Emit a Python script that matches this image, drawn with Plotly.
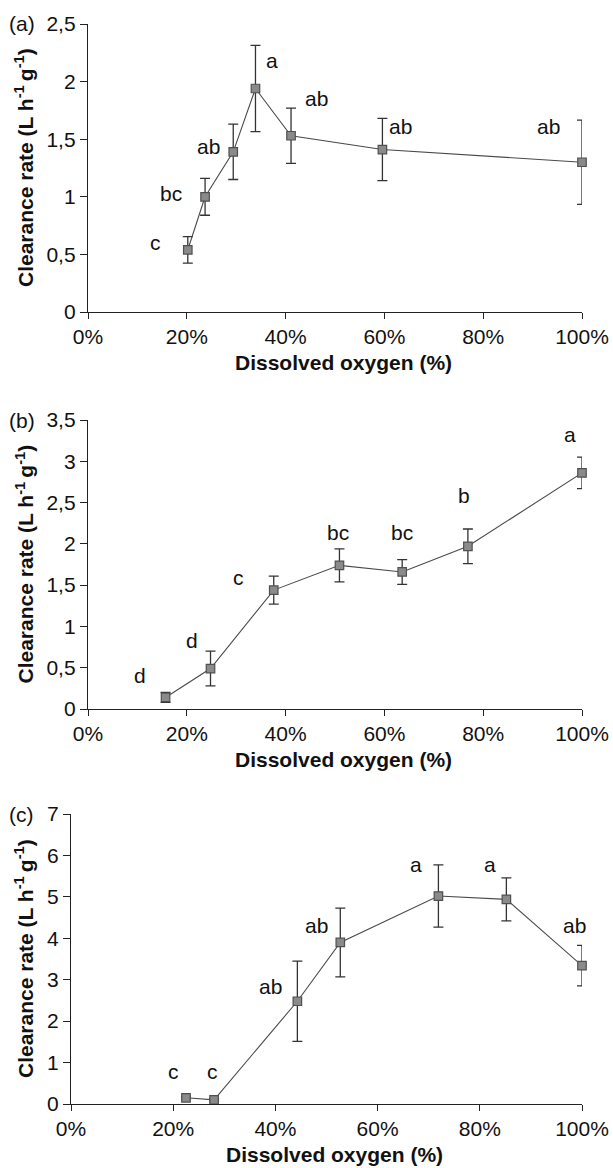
import plotly.graph_objects as go

# ---- data -------------------------------------------------------------
# Panel (a)
do_a = [20.2, 23.7, 29.4, 33.9, 41.1, 59.6, 100]
cr_a = [0.54, 1.00, 1.39, 1.94, 1.53, 1.41, 1.30]
se_a = [0.115, 0.16, 0.24, 0.375, 0.24, 0.27, 0.365]
grp_a = ["c", "bc", "ab", "a", "ab", "ab", "ab"]

# Panel (b)
do_b = [15.7, 24.8, 37.6, 50.9, 63.6, 76.9, 100]
cr_b = [0.14, 0.49, 1.44, 1.74, 1.66, 1.97, 2.86]
se_b = [0.06, 0.21, 0.17, 0.20, 0.15, 0.21, 0.19]
grp_b = ["d", "d", "c", "bc", "bc", "b", "a"]

# Panel (c)
do_c = [22.5, 28.0, 44.3, 52.7, 71.9, 85.2, 100]
cr_c = [0.15, 0.10, 2.48, 3.90, 5.02, 4.94, 3.34]
se_c = [0.03, 0.03, 0.97, 0.83, 0.75, 0.52, 0.49]
grp_c = ["c", "c", "ab", "ab", "a", "a", "ab"]

# letter positions (x %, y value) for the significance groups
lab_a_x = [13.6, 16.8, 24.4, 37.3, 46.2, 63.2, 93.3]
lab_a_y = [0.60, 1.03, 1.44, 2.18, 1.85, 1.61, 1.61]
lab_b_x = [10.6, 21.0, 30.5, 50.6, 63.6, 76.1, 97.6]
lab_b_y = [0.40, 0.83, 1.59, 2.14, 2.14, 2.58, 3.33]
lab_c_x = [20.0, 27.6, 39.1, 48.1, 67.6, 81.9, 98.6]
lab_c_y = [0.78, 0.78, 2.83, 4.32, 5.79, 5.79, 4.32]

x_ticks = [0, 20, 40, 60, 80, 100]
x_ticktext = ["0%", "20%", "40%", "60%", "80%", "100%"]
y_ticks_a = [0, 0.5, 1, 1.5, 2, 2.5]
y_ticktext_a = ["0", "0,5", "1", "1,5", "2", "2,5"]
y_ticks_b = [0, 0.5, 1, 1.5, 2, 2.5, 3, 3.5]
y_ticktext_b = ["0", "0,5", "1", "1,5", "2", "2,5", "3", "3,5"]
y_ticks_c = [0, 1, 2, 3, 4, 5, 6, 7]
y_ticktext_c = ["0", "1", "2", "3", "4", "5", "6", "7"]

x_title = "Dissolved oxygen (%)"
y_title = "Clearance rate (L h<sup>-1 </sup>g<sup>-1</sup>)"
panel_tags = ["(a)", "(b)", "(c)"]

# ---- layout helpers -----------------------------------------------------
W, H = 613, 1168
FONT = "Liberation Sans, Arial, sans-serif"
INK = "#222222"


def px_x(p):
    return p / W


def px_y(p):
    return 1 - p / H


# plot boxes in pixels: (left, right, top, bottom)
boxes = [(88, 582, 24, 312), (88, 582, 420, 709), (71, 582, 814, 1104)]
ymax = [2.5, 3.5, 7]

panels = [
    (do_a, cr_a, se_a, grp_a, lab_a_x, lab_a_y, y_ticks_a, y_ticktext_a),
    (do_b, cr_b, se_b, grp_b, lab_b_x, lab_b_y, y_ticks_b, y_ticktext_b),
    (do_c, cr_c, se_c, grp_c, lab_c_x, lab_c_y, y_ticks_c, y_ticktext_c),
]

fig = go.Figure()
annotations = []

for i, (xs, ys, es, grp, lx, ly, yt, ytt) in enumerate(panels):
    n = "" if i == 0 else str(i + 1)
    xa, ya = "x" + n, "y" + n
    left, right, top, bottom = boxes[i]

    fig.add_trace(go.Scatter(
        x=xs, y=ys, xaxis=xa, yaxis=ya,
        mode="lines+markers",
        line=dict(color="#4a4a4a", width=1.1),
        marker=dict(symbol="square", size=8.5, color="#8a8a8a",
                    line=dict(color="#505050", width=1.2)),
        error_y=dict(type="data", array=es, symmetric=True,
                     color="#333333", thickness=1.3, width=5),
        cliponaxis=False,
        showlegend=False,
    ))

    for t, x, y in zip(grp, lx, ly):
        annotations.append(dict(
            x=x, y=y, xref=xa, yref=ya, text=t, showarrow=False,
            xanchor="center", yanchor="middle",
            font=dict(family=FONT, size=21, color="#111111"),
        ))

    fig.layout["xaxis" + n] = dict(
        domain=[px_x(left), px_x(right)], anchor=ya, range=[0, 100],
        tickvals=x_ticks, ticktext=x_ticktext,
        showline=True, linecolor=INK, linewidth=1.3,
        ticks="outside", ticklen=6, tickwidth=1.3, tickcolor=INK,
        showgrid=False, zeroline=False, fixedrange=True, automargin=False,
        tickfont=dict(family=FONT, size=21, color="#111111"),
    )
    fig.layout["yaxis" + n] = dict(
        domain=[px_y(bottom), px_y(top)], anchor=xa, range=[0, ymax[i]],
        tickvals=yt, ticktext=ytt,
        showline=True, linecolor=INK, linewidth=1.3,
        ticks="outside", ticklen=7, tickwidth=1.3, tickcolor=INK,
        showgrid=False, zeroline=False, fixedrange=True, automargin=False,
        tickfont=dict(family=FONT, size=21, color="#111111"),
    )

    # axis titles
    annotations.append(dict(
        x=px_x((left + right) / 2 + 8), y=px_y(bottom + 50),
        xref="paper", yref="paper", text=x_title, showarrow=False,
        xanchor="center", yanchor="middle",
        font=dict(family=FONT, size=21, color="#111111", weight="bold"),
    ))
    annotations.append(dict(
        x=px_x(24), y=px_y((top + bottom) / 2),
        xref="paper", yref="paper", text=y_title, showarrow=False,
        textangle=-90, xanchor="center", yanchor="middle",
        font=dict(family=FONT, size=21, color="#111111", weight="bold"),
    ))
    # panel tag
    annotations.append(dict(
        x=px_x(7), y=px_y(top), xref="paper", yref="paper",
        text=panel_tags[i], showarrow=False,
        xanchor="left", yanchor="middle",
        font=dict(family=FONT, size=21, color="#111111"),
    ))

fig.update_layout(
    width=W, height=H,
    margin=dict(l=0, r=0, t=0, b=0, pad=0, autoexpand=False),
    paper_bgcolor="white", plot_bgcolor="white",
    annotations=annotations,
    font=dict(family=FONT),
)

fig.write_html(
    "out.html",
    post_script="document.body.style.margin='0';"
                "document.body.style.overflow='hidden';",
)
